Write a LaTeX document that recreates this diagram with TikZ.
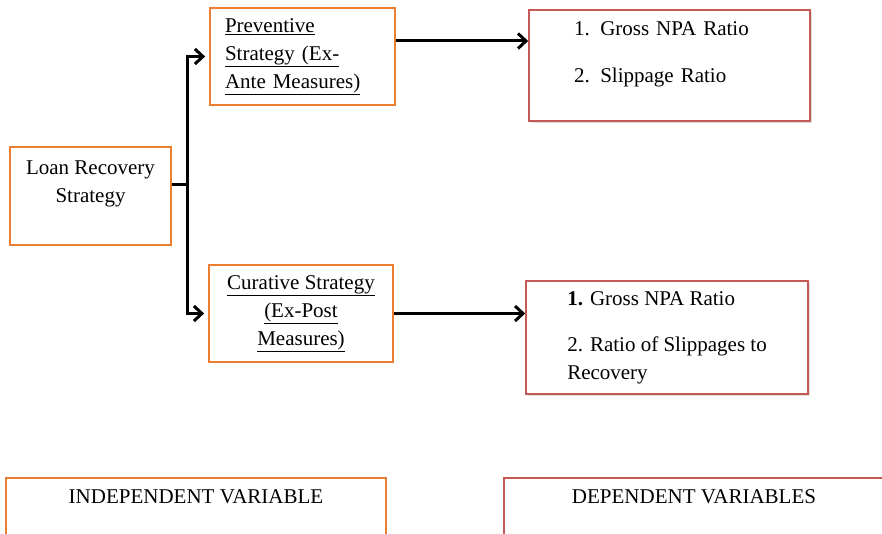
\documentclass[tikz,border=0pt]{standalone}
\usepackage{fontspec}
\setmainfont{Liberation Serif}
\usetikzlibrary{arrows.meta,shadows}
\definecolor{boxorange}{RGB}{237,125,49}
\definecolor{boxred}{RGB}{196,89,86}

\begin{document}
\begin{tikzpicture}[
    x=1pt, y=-1pt,
    every node/.style={font=\fontsize{21}{28}\selectfont},
    ivbox/.style={draw=boxorange, line width=1.8pt, align=center, inner sep=0pt},
    dvbox/.style={draw=boxred, line width=1.6pt, fill=white, align=left, inner sep=0pt,
        drop shadow={opacity=0.25, shadow xshift=2pt, shadow yshift=-2pt}},
    link/.style={line width=3pt},
    arrow/.style={-{Straight Barb[length=8pt, width=15pt]}, line width=3pt}
]
\clip (0,0) rectangle (882,534);

\node[ivbox, minimum width=161pt, minimum height=98pt] (loan) at (90.5,196) {Loan Recovery\\Strategy\\\mbox{}};
\node[ivbox, minimum width=185pt, minimum height=97pt, text width=155pt, align=left] (prev) at (302.5,56.5) {\underline{Preventive}\\\underline{Strategy (Ex-}\\\underline{Ante Measures)}};
\node[ivbox, minimum width=184pt, minimum height=97pt] (cur) at (301,313.5) {\underline{Curative Strategy}\\\underline{(Ex-Post}\\\underline{Measures)}};

\node[dvbox, minimum width=281pt, minimum height=111pt, text width=191pt] (npa1) at (669.5,65.5) {1. Gross NPA Ratio\\[19pt]2. Slippage Ratio\\[-2pt]\mbox{}};
\node[dvbox, minimum width=282pt, minimum height=113pt] (npa2) at (667,337.5) {\textbf{1.} Gross NPA Ratio\\[18pt]2. Ratio of Slippages to\\Recovery};

\node[ivbox, minimum width=380pt, minimum height=94pt] (indep) at (196,525) {INDEPENDENT VARIABLE\\\mbox{}\\\mbox{}};
\node[dvbox, minimum width=380pt, minimum height=94pt, align=center] (dep) at (694,525) {DEPENDENT VARIABLES\\\mbox{}\\\mbox{}};

\coordinate (fork) at (187,185);
\coordinate (toprow) at (0,41);

\draw[link] (loan.east |- fork) -- (fork);
\draw[arrow, shorten >=4pt] (fork) |- (prev.west);
\draw[arrow, shorten >=4pt] (fork) |- (cur.west);
\draw[arrow] (prev.east |- toprow) -- (npa1.west |- toprow);
\draw[arrow] (cur.east) -- (cur.east -| npa2.west);
\end{tikzpicture}
\end{document}
